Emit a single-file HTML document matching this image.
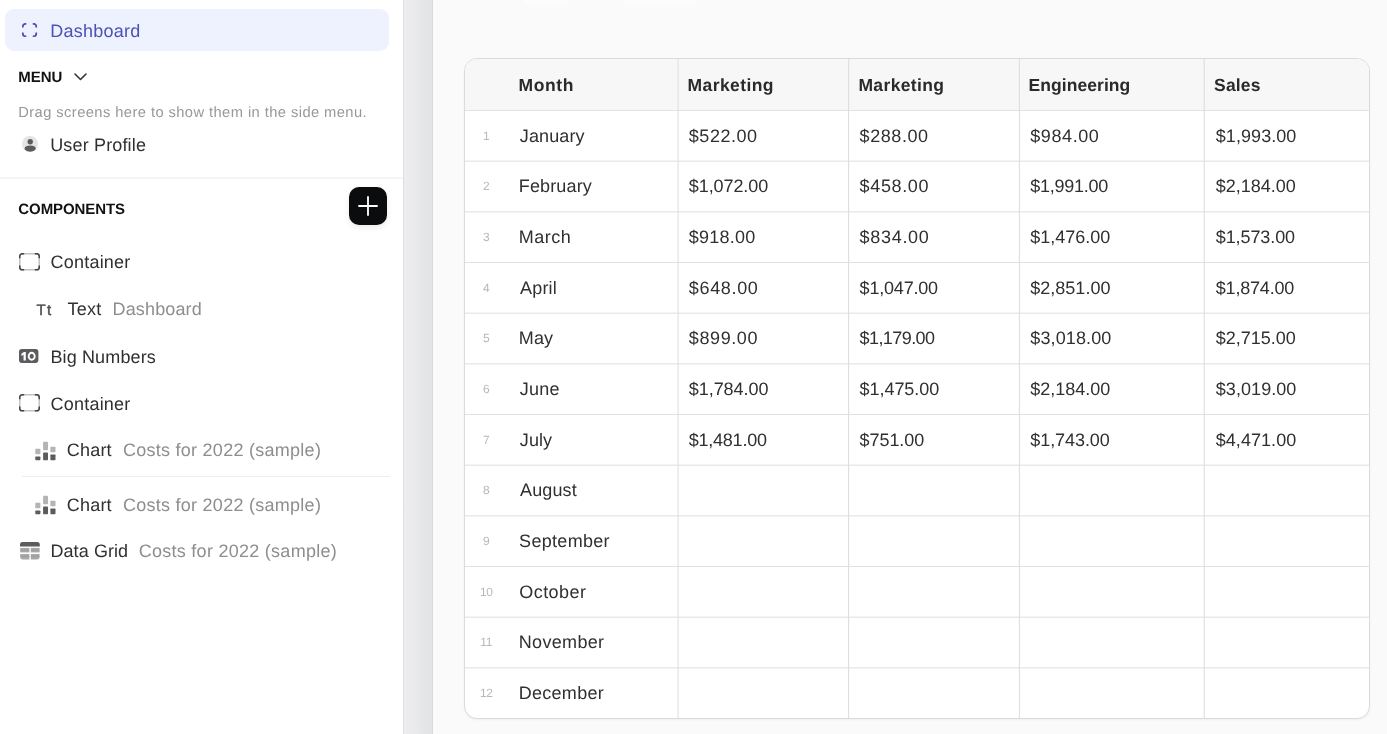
<!DOCTYPE html>
<html><head><meta charset="utf-8"><title>Dashboard</title>
<style>
*{box-sizing:border-box;margin:0;padding:0}
html,body{width:1387px;height:734px;overflow:hidden}
body{font-family:"Liberation Sans",sans-serif;text-rendering:geometricPrecision;background:#fafafa;position:relative;color:#333}
.side{position:absolute;left:0;top:0;width:403px;height:734px;background:#fff}
.strip{position:absolute;left:403px;top:0;width:30px;height:734px;background:linear-gradient(90deg,#ededef 0%,#eaeaec 40%,#e5e6e8 70%,#e2e3e5 100%);border-left:1px solid #dedee1;border-right:1px solid #d8d9dc}
.abs{position:absolute;white-space:nowrap}
.pill{position:absolute;left:5px;top:9px;width:384px;height:42px;border-radius:9px;background:#edf2fe}
.t18{font-size:18px;line-height:22px;color:#303030}
.g{color:#8e8e8e}
.cap{font-size:15px;font-weight:bold;line-height:18px;color:#111}
.hr1{position:absolute;left:0;top:177px;width:403px;height:2px;background:#f5f5f5}
.hr2{position:absolute;left:22px;top:476px;width:368px;height:1px;background:#ededed}
.plus{position:absolute;left:349px;top:187px;width:38px;height:38px;border-radius:10px;background:#0b0c0d;box-shadow:0 3px 6px rgba(0,0,0,.08)}
svg{position:absolute;overflow:visible}
.grid{position:absolute;left:464px;top:58px;width:906px;height:661px;border:1px solid #dbdbdd;border-radius:13px;background:#fff;overflow:hidden;box-shadow:0 1px 2px rgba(0,0,0,.05)}
.hdr{position:absolute;left:0;top:0;width:906px;height:52px;background:#f7f7f7;border-bottom:1px solid #e2e2e4}
.hl{position:absolute;left:0;width:906px;height:1px;background:#e1e1e3}
.v{position:absolute;top:0;width:1px;height:661px;background:#dfdfe1}
.drag{font-size:14.7px;line-height:18px;color:#989898}
.hd{font-size:17.5px;font-weight:bold;line-height:22px;color:#2a2a2a}
.cell{font-size:18px;line-height:22px;color:#303030}
.num{left:466.3px;width:40px;text-align:center;font-size:12px;line-height:22px;color:#b8b8b8;letter-spacing:-.3px}
.txt{position:absolute;left:0;top:0;width:1387px;height:734px;will-change:transform}
.tt{font-size:15px;line-height:22px;color:#4e4e52;-webkit-text-stroke:.45px #4e4e52}
.wt{position:absolute;top:0;height:5px;background:rgba(255,255,255,.45);border-radius:0 0 2px 2px}

</style></head>
<body>
<div class="side">
<div class="pill"></div>
<svg style="left:22px;top:22.800px" width="15.100" height="14.100" viewBox="0 0 15.100 14.100" fill="none" stroke="#434bb6" stroke-width="1.700"><path d="M0.85 4.5V3.25A2.4 2.4 0 0 1 3.25 0.85H4.3M10.80 0.85H11.85A2.4 2.4 0 0 1 14.25 3.25V4.5M14.25 9.60V10.85A2.4 2.4 0 0 1 11.85 13.25H10.80M4.3 13.25H3.25A2.4 2.4 0 0 1 0.85 10.85V9.60"/></svg>
<svg style="left:74px;top:73px" width="13" height="8" viewBox="0 0 13 8" fill="none" stroke="#333" stroke-width="1.6" stroke-linecap="round" stroke-linejoin="round"><path d="M1 1l5.500 5.500L12 1"/></svg>
<svg style="left:21.600px;top:136.100px" width="16" height="16" viewBox="0 0 16 16"><defs><clipPath id="uc"><circle cx="8" cy="8" r="8"/></clipPath></defs><circle cx="8" cy="8" r="8" fill="#e4e4e6"/><circle cx="8.200" cy="5.700" r="2.700" fill="#5c5c60"/><ellipse cx="8.200" cy="12.600" rx="5.600" ry="3.200" fill="#5c5c60" clip-path="url(#uc)"/></svg>
<div class="hr1"></div>
<div class="plus"><svg style="left:9px;top:9px" width="20" height="20" viewBox="0 0 20 20" stroke="#fff" stroke-width="1.850" stroke-linecap="round"><path d="M10 1v18M1 10h18"/></svg></div>

<svg style="left:18.850px;top:252.500px" width="21" height="17.600" viewBox="0 0 21 17.600" fill="none" stroke-width="1.500"><rect x="0.75" y="0.75" width="19.5" height="16.1" rx="2.6" stroke="#c2c2c4"/><path d="M0.75 5.2V3.35A2.6 2.6 0 0 1 3.35 0.75H5.2M15.8 0.75H17.65A2.6 2.6 0 0 1 20.25 3.35V5.2M20.25 12.400000000000002V14.250000000000002A2.6 2.6 0 0 1 17.65 16.85H15.8M5.2 16.85H3.35A2.6 2.6 0 0 1 0.75 14.250000000000002V12.400000000000002" stroke="#444446"/></svg>


<svg style="left:19px;top:348.650px" width="19.400" height="13.900" viewBox="0 0 19.400 13.900"><rect width="19.400" height="13.900" rx="2.800" fill="#5c5c60"/><path d="M4.900 3.050H6.800V11.400H4.550V5.700L2.400 6.900V4.800z" fill="#fff"/><ellipse cx="12.700" cy="7.250" rx="3.050" ry="3.500" fill="none" stroke="#fff" stroke-width="1.850"/></svg>

<svg style="left:18.850px;top:393.700px" width="21" height="17.600" viewBox="0 0 21 17.600" fill="none" stroke-width="1.500"><rect x="0.75" y="0.75" width="19.5" height="16.1" rx="2.6" stroke="#c2c2c4"/><path d="M0.75 5.2V3.35A2.6 2.6 0 0 1 3.35 0.75H5.2M15.8 0.75H17.65A2.6 2.6 0 0 1 20.25 3.35V5.2M20.25 12.400000000000002V14.250000000000002A2.6 2.6 0 0 1 17.65 16.85H15.8M5.2 16.85H3.35A2.6 2.6 0 0 1 0.75 14.250000000000002V12.400000000000002" stroke="#444446"/></svg>

<svg style="left:34.800px;top:440.500px" width="21" height="19.600" viewBox="0 0 21 19.600"><rect x=".3" y="7.800" width="5.100" height="5.500" rx=".7" fill="#b4b4b4"/><rect x=".3" y="15.600" width="5.100" height="3.650" rx=".7" fill="#5c5c60"/><rect x="8.100" y=".65" width="4.900" height="8.550" rx=".7" fill="#b4b4b4"/><rect x="8.100" y="11.500" width="4.900" height="7.750" rx=".7" fill="#5c5c60"/><rect x="15.400" y="5.800" width="5.100" height="5.500" rx=".7" fill="#b4b4b4"/><rect x="15.400" y="13.500" width="5.100" height="5.750" rx=".7" fill="#5c5c60"/></svg>
<div class="hr2"></div>
<svg style="left:34.800px;top:494.500px" width="21" height="19.600" viewBox="0 0 21 19.600"><rect x=".3" y="7.800" width="5.100" height="5.500" rx=".7" fill="#b4b4b4"/><rect x=".3" y="15.600" width="5.100" height="3.650" rx=".7" fill="#5c5c60"/><rect x="8.100" y=".65" width="4.900" height="8.550" rx=".7" fill="#b4b4b4"/><rect x="8.100" y="11.500" width="4.900" height="7.750" rx=".7" fill="#5c5c60"/><rect x="15.400" y="5.800" width="5.100" height="5.500" rx=".7" fill="#b4b4b4"/><rect x="15.400" y="13.500" width="5.100" height="5.750" rx=".7" fill="#5c5c60"/></svg>

<svg style="left:19.600px;top:542.200px" width="19.800" height="17.400" viewBox="0 0 19.800 17.400"><path d="M0 4.600V2.600A2.600 2.600 0 0 1 2.600 0h14.600a2.600 2.600 0 0 1 2.600 2.600v2z" fill="#5c5c60"/><rect x=".2" y="5.900" width="9.200" height="4.500" fill="#a8a8a8"/><rect x="10.800" y="5.900" width="8.800" height="4.500" fill="#a8a8a8"/><path d="M.2 11.900h9.200v5.500H2.800A2.600 2.600 0 0 1 .2 14.800z" fill="#a8a8a8"/><path d="M10.800 11.900h8.800v2.900a2.600 2.600 0 0 1-2.600 2.600h-6.200z" fill="#a8a8a8"/><path d="M.2 8.150h9.200M10.800 8.150h8.800M.2 14.500h9.200M10.800 14.500h8.800" stroke="#949496" stroke-width=".5"/></svg>
</div>
<div class="strip"></div>
<i class="wt" style="left:525px;width:42px"></i><i class="wt" style="left:625px;width:70px"></i>
<div class="grid"><div class="hdr"></div>
<i class="hl" style="top:101px;opacity:0.36"></i><i class="hl" style="top:102px;opacity:0.74"></i><i class="hl" style="top:152px;opacity:0.73"></i><i class="hl" style="top:153px;opacity:0.37"></i><i class="hl" style="top:203px;opacity:1"></i><i class="hl" style="top:253px;opacity:0.35"></i><i class="hl" style="top:254px;opacity:0.75"></i><i class="hl" style="top:304px;opacity:0.71"></i><i class="hl" style="top:305px;opacity:0.39"></i><i class="hl" style="top:355px;opacity:1"></i><i class="hl" style="top:405px;opacity:0.34"></i><i class="hl" style="top:406px;opacity:0.76"></i><i class="hl" style="top:456px;opacity:0.7"></i><i class="hl" style="top:457px;opacity:0.4"></i><i class="hl" style="top:507px;opacity:1"></i><i class="hl" style="top:557px;opacity:0.33"></i><i class="hl" style="top:558px;opacity:0.77"></i><i class="hl" style="top:608px;opacity:0.69"></i><i class="hl" style="top:609px;opacity:0.41"></i>
<i class="v" style="left:212px;opacity:0.48"></i><i class="v" style="left:213px;opacity:0.62"></i><i class="v" style="left:383px;opacity:0.99"></i><i class="v" style="left:384px;opacity:0.11"></i><i class="v" style="left:553px;opacity:0.11"></i><i class="v" style="left:554px;opacity:0.99"></i><i class="v" style="left:738px;opacity:0.33"></i><i class="v" style="left:739px;opacity:0.77"></i>
</div>
<div class="txt">
<div id="s_dash" class="abs t18" style="left:50.19px;top:20px;letter-spacing:0.26px;color:#4a52b8">Dashboard</div>
<div id="s_menu" class="abs cap" style="left:18.31px;top:69px;letter-spacing:-0.01px">MENU</div>
<div id="s_drag" class="abs drag" style="left:18.24px;top:104px;letter-spacing:0.43px">Drag screens here to show them in the side menu.</div>
<div id="s_user" class="abs t18" style="left:50.23px;top:134px;letter-spacing:0.15px">User Profile</div>
<div id="s_comp" class="abs cap" style="left:18.35px;top:201px;letter-spacing:-0.08px">COMPONENTS</div>
<div id="s_cont1" class="abs t18" style="left:50.52px;top:251px;letter-spacing:0.22px">Container</div>
<div id="s_text" class="abs t18" style="left:67.53px;top:298px;letter-spacing:0.25px">Text</div>
<div id="s_dg" class="abs t18 g" style="left:112.55px;top:298px;letter-spacing:0.14px">Dashboard</div>
<div id="s_big" class="abs t18" style="left:50.46px;top:346px;letter-spacing:0.13px">Big Numbers</div>
<div id="s_cont2" class="abs t18" style="left:50.52px;top:393px;letter-spacing:0.22px">Container</div>
<div id="s_ch1" class="abs t18" style="left:66.74px;top:439px;letter-spacing:0.21px">Chart</div>
<div id="s_co1" class="abs t18 g" style="left:122.88px;top:439px;letter-spacing:0.27px">Costs for 2022 (sample)</div>
<div id="s_ch2" class="abs t18" style="left:66.74px;top:494px;letter-spacing:0.21px">Chart</div>
<div id="s_co2" class="abs t18 g" style="left:122.88px;top:494px;letter-spacing:0.27px">Costs for 2022 (sample)</div>
<div id="s_grid" class="abs t18" style="left:50.46px;top:540px;letter-spacing:0.08px">Data Grid</div>
<div id="s_co3" class="abs t18 g" style="left:138.71px;top:540px;letter-spacing:0.27px">Costs for 2022 (sample)</div>
<div id="s_tt" class="abs tt" style="left:36.53px;top:300px;letter-spacing:1.31px">Tt</div>
<div id="h_month" class="abs hd" style="left:518.44px;top:74px;letter-spacing:0.63px">Month</div>
<div id="h_m1" class="abs hd" style="left:687.57px;top:74px;letter-spacing:0.4px">Marketing</div>
<div id="h_m2" class="abs hd" style="left:858.43px;top:74px;letter-spacing:0.37px">Marketing</div>
<div id="h_eng" class="abs hd" style="left:1028.48px;top:74px;letter-spacing:0.07px">Engineering</div>
<div id="h_sales" class="abs hd" style="left:1214.12px;top:74px;letter-spacing:0.14px">Sales</div>
<div id="m0" class="abs cell" style="left:519.78px;top:125px;letter-spacing:0.12px">January</div>
<div id="n0" class="abs num" style="top:125px">1</div>
<div id="v0_0" class="abs cell" style="left:688.84px;top:125px;letter-spacing:0.53px">$522.00</div>
<div id="v0_1" class="abs cell" style="left:859.59px;top:125px;letter-spacing:0.57px">$288.00</div>
<div id="v0_2" class="abs cell" style="left:1030.28px;top:125px;letter-spacing:0.59px">$984.00</div>
<div id="v0_3" class="abs cell" style="left:1215.74px;top:125px;letter-spacing:0.07px">$1,993.00</div>
<div id="m1" class="abs cell" style="left:518.78px;top:175px;letter-spacing:0.14px">February</div>
<div id="n1" class="abs num" style="top:175px">2</div>
<div id="v1_0" class="abs cell" style="left:688.84px;top:175px;letter-spacing:-0.09px">$1,072.00</div>
<div id="v1_1" class="abs cell" style="left:859.59px;top:175px;letter-spacing:0.65px">$458.00</div>
<div id="v1_2" class="abs cell" style="left:1030.28px;top:175px;letter-spacing:-0.25px">$1,991.00</div>
<div id="v1_3" class="abs cell" style="left:1215.74px;top:175px;letter-spacing:-0.01px">$2,184.00</div>
<div id="m2" class="abs cell" style="left:518.78px;top:226px;letter-spacing:0.51px">March</div>
<div id="n2" class="abs num" style="top:226px">3</div>
<div id="v2_0" class="abs cell" style="left:688.84px;top:226px;letter-spacing:0.21px">$918.00</div>
<div id="v2_1" class="abs cell" style="left:859.59px;top:226px;letter-spacing:0.69px">$834.00</div>
<div id="v2_2" class="abs cell" style="left:1030.28px;top:226px;letter-spacing:-0.01px">$1,476.00</div>
<div id="v2_3" class="abs cell" style="left:1215.74px;top:226px;letter-spacing:-0.09px">$1,573.00</div>
<div id="m3" class="abs cell" style="left:520.1px;top:277px;letter-spacing:0.17px">April</div>
<div id="n3" class="abs num" style="top:277px">4</div>
<div id="v3_0" class="abs cell" style="left:688.84px;top:277px;letter-spacing:0.66px">$648.00</div>
<div id="v3_1" class="abs cell" style="left:859.59px;top:277px;letter-spacing:-0.19px">$1,047.00</div>
<div id="v3_2" class="abs cell" style="left:1030.28px;top:277px;letter-spacing:0.01px">$2,851.00</div>
<div id="v3_3" class="abs cell" style="left:1215.74px;top:277px;letter-spacing:-0.19px">$1,874.00</div>
<div id="m4" class="abs cell" style="left:518.78px;top:327px;letter-spacing:0.17px">May</div>
<div id="n4" class="abs num" style="top:327px">5</div>
<div id="v4_0" class="abs cell" style="left:688.84px;top:327px;letter-spacing:0.59px">$899.00</div>
<div id="v4_1" class="abs cell" style="left:859.59px;top:327px;letter-spacing:-0.58px">$1,179.00</div>
<div id="v4_2" class="abs cell" style="left:1030.28px;top:327px;letter-spacing:0.13px">$3,018.00</div>
<div id="v4_3" class="abs cell" style="left:1215.74px;top:327px;letter-spacing:-0.01px">$2,715.00</div>
<div id="m5" class="abs cell" style="left:519.78px;top:378px;letter-spacing:0.22px">June</div>
<div id="n5" class="abs num" style="top:378px">6</div>
<div id="v5_0" class="abs cell" style="left:688.84px;top:378px;letter-spacing:-0.06px">$1,784.00</div>
<div id="v5_1" class="abs cell" style="left:859.59px;top:378px;letter-spacing:-0.05px">$1,475.00</div>
<div id="v5_2" class="abs cell" style="left:1030.28px;top:378px;letter-spacing:-0.01px">$2,184.00</div>
<div id="v5_3" class="abs cell" style="left:1215.74px;top:378px;letter-spacing:0.07px">$3,019.00</div>
<div id="m6" class="abs cell" style="left:519.78px;top:429px;letter-spacing:0.11px">July</div>
<div id="n6" class="abs num" style="top:429px">7</div>
<div id="v6_0" class="abs cell" style="left:688.84px;top:429px;letter-spacing:-0.25px">$1,481.00</div>
<div id="v6_1" class="abs cell" style="left:859.59px;top:429px;letter-spacing:-0.07px">$751.00</div>
<div id="v6_2" class="abs cell" style="left:1030.28px;top:429px;letter-spacing:-0.07px">$1,743.00</div>
<div id="v6_3" class="abs cell" style="left:1215.74px;top:429px;letter-spacing:0.05px">$4,471.00</div>
<div id="m7" class="abs cell" style="left:520.1px;top:479px;letter-spacing:0.11px">August</div>
<div id="n7" class="abs num" style="top:479px">8</div>
<div id="m8" class="abs cell" style="left:519.12px;top:530px;letter-spacing:0.3px">September</div>
<div id="n8" class="abs num" style="top:530px">9</div>
<div id="m9" class="abs cell" style="left:519.31px;top:581px;letter-spacing:0.43px">October</div>
<div id="n9" class="abs num" style="top:581px">10</div>
<div id="m10" class="abs cell" style="left:518.78px;top:631px;letter-spacing:0.32px">November</div>
<div id="n10" class="abs num" style="top:631px">11</div>
<div id="m11" class="abs cell" style="left:518.78px;top:682px;letter-spacing:0.27px">December</div>
<div id="n11" class="abs num" style="top:682px">12</div>
</div>
</body></html>
